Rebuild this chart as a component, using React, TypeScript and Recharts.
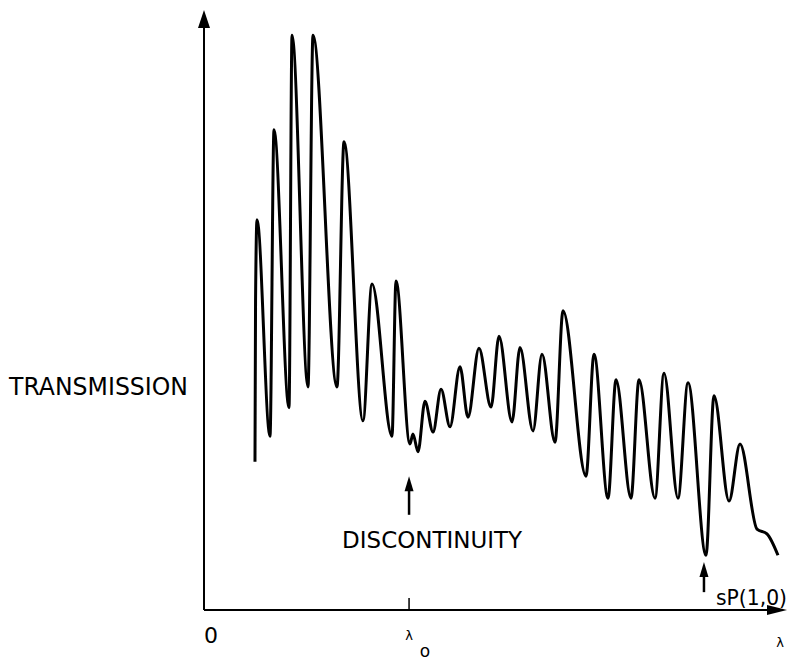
import { LineChart, Line, XAxis, YAxis, ReferenceLine, ReferenceDot } from 'recharts'

// wavelength (arbitrary units, 0..100 along the axis) and transmission (0..100)
const wavelength = [
  8.85, 8.95, 9.2, 11.46, 12.15, 14.76, 15.28, 18.06, 18.92, 23.09,
  24.31, 27.6, 29.17, 32.64, 33.33, 35.76, 36.28, 37.15, 38.37, 39.76,
  41.15, 42.71, 44.44, 45.83, 47.74, 49.83, 51.22, 53.47, 54.86, 57.12,
  58.68, 60.94, 62.33, 66.32, 67.71, 70.14, 71.53, 74.13, 75.52, 78.3,
  79.86, 82.29, 84.03, 87.15, 88.54, 91.15, 93.06, 96.0, 97.74, 99.65,
]
const transmission = [
  24.9, 52, 65.6, 29.2, 80.7, 34.0, 96.6, 37.5, 96.6, 37.5,
  78.7, 31.8, 54.8, 29.2, 55.3, 27.9, 29.6, 26.6, 35.1, 29.9,
  37.1, 30.8, 40.9, 32.4, 44.0, 34.1, 46.0, 31.6, 44.1, 30.1,
  43.0, 28.2, 50.3, 22.5, 43.0, 18.8, 38.7, 18.8, 38.7, 18.8,
  39.8, 18.8, 38.2, 9.2, 36.0, 18.3, 27.9, 13.6, 12.8, 9.2,
]

const tickValues = [0, 35.6, 100]
const tickLabels = ['0', 'λ', 'λ']
const tickSubs = ['', 'o', '']

const lambda0 = 35.6
const sp10 = 86.8

const data = wavelength.map((x, i) => ({ x, y: transmission[i] }))

const FONT = '"DejaVu Sans", sans-serif'

const AxisTick = ({ x, y, payload, index }: any) => {
  const i = tickValues.indexOf(payload.value)
  const idx = i >= 0 ? i : index
  if (idx === 0) {
    return (
      <text x={x + 7} y={y + 33} textAnchor="middle" fontSize={22} fontFamily={FONT} fill="#000">
        {tickLabels[idx]}
      </text>
    )
  }
  if (idx === 2) {
    return (
      <text x={x} y={y + 37} textAnchor="middle" fontSize={13} fontFamily={FONT} fill="#000">
        {tickLabels[idx]}
      </text>
    )
  }
  return (
    <g>
      <line x1={x} x2={x} y1={y} y2={y - 12} stroke="#000" strokeWidth={1.5} />
      <text x={x} y={y + 30} textAnchor="middle" fontSize={13} fontFamily={FONT} fill="#000">
        {tickLabels[idx]}
      </text>
      <text x={x + 16} y={y + 47} textAnchor="middle" fontSize={17} fontFamily={FONT} fill="#000">
        {tickSubs[idx]}
      </text>
    </g>
  )
}

const YArrow = ({ cx, cy }: any) => (
  <polygon points={`${cx},${cy - 5} ${cx - 6},${cy + 13} ${cx + 6},${cy + 13}`} fill="#000" />
)
const XArrow = ({ cx, cy }: any) => (
  <polygon points={`${cx + 7},${cy} ${cx - 13},${cy - 5} ${cx - 13},${cy + 5}`} fill="#000" />
)
const UpHead = ({ cx, cy }: any) => (
  <polygon points={`${cx},${cy} ${cx - 4.5},${cy + 15} ${cx + 4.5},${cy + 15}`} fill="#000" />
)

const TransmissionLabel = ({ cx, cy }: any) => (
  <text x={cx - 195} y={cy} fontSize={24} fontFamily={FONT} fill="#000" textLength={179} lengthAdjust="spacingAndGlyphs">
    TRANSMISSION
  </text>
)
const DiscontinuityLabel = ({ cx, cy }: any) => (
  <text x={cx - 90} y={cy} fontSize={23} fontFamily={FONT} fill="#000" textLength={180} lengthAdjust="spacingAndGlyphs">
    DISCONTINUITY
  </text>
)
const SpLabel = ({ cx, cy }: any) => (
  <text x={cx - 1} y={cy} fontSize={21} fontFamily={FONT} fill="#000" textLength={71} lengthAdjust="spacingAndGlyphs">
    sP(1,0)
  </text>
)

export default function App() {
  return (
    <div style={{ position: 'absolute', left: 0, top: 0, background: '#fff' }}>
      <LineChart width={794} height={660} data={data} margin={{ top: 15, right: 14, left: 204, bottom: 10 }}>
        <XAxis
          type="number"
          dataKey="x"
          domain={[0, 100]}
          ticks={tickValues}
          interval={0}
          height={40}
          tickSize={0}
          tickMargin={0}
          tickLine={false}
          axisLine={false}
          tick={<AxisTick />}
        />
        <YAxis type="number" domain={[0, 100]} hide />
        <ReferenceLine segment={[{ x: 0, y: 0 }, { x: 100, y: 0 }]} stroke="#000" strokeWidth={2} />
        <ReferenceLine segment={[{ x: 0, y: 0 }, { x: 0, y: 100 }]} stroke="#000" strokeWidth={2} />
        <ReferenceDot x={0} y={100} r={0} shape={<YArrow />} />
        <ReferenceDot x={100} y={0} r={0} shape={<XArrow />} />
        <ReferenceDot x={0} y={36.1} r={0} shape={<TransmissionLabel />} />
        <ReferenceLine segment={[{ x: lambda0, y: 16.0 }, { x: lambda0, y: 20.5 }]} stroke="#000" strokeWidth={2.5} />
        <ReferenceDot x={lambda0} y={22.5} r={0} shape={<UpHead />} />
        <ReferenceDot x={39.6} y={10.4} r={0} shape={<DiscontinuityLabel />} />
        <ReferenceLine segment={[{ x: sp10, y: 3.0 }, { x: sp10, y: 6.3 }]} stroke="#000" strokeWidth={2.5} />
        <ReferenceDot x={sp10} y={8.07} r={0} shape={<UpHead />} />
        <ReferenceDot x={89.06} y={0.84} r={0} shape={<SpLabel />} />
        <Line
          type="monotone"
          dataKey="y"
          stroke="#000"
          strokeWidth={3}
          dot={false}
          activeDot={false}
          isAnimationActive={false}
        />
      </LineChart>
    </div>
  )
}
